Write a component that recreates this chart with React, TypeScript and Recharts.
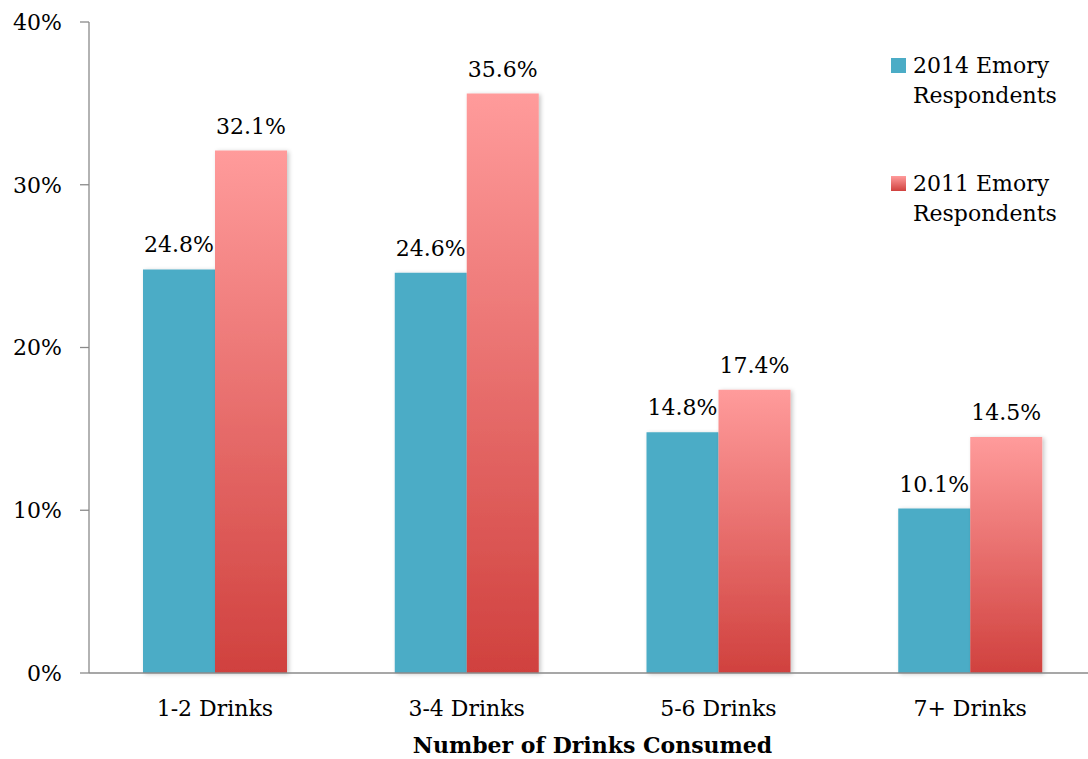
import React from 'react';
import { BarChart, Bar, XAxis, YAxis, LabelList, Legend, Label } from 'recharts';

// Share of respondents by number of drinks consumed
const categories = ['1-2 Drinks', '3-4 Drinks', '5-6 Drinks', '7+ Drinks'];
const respondents2014 = [24.8, 24.6, 14.8, 10.1];
const respondents2011 = [32.1, 35.6, 17.4, 14.5];
const yTicks = [0, 10, 20, 30, 40];
const seriesLabels = [
  ['2014 Emory', 'Respondents'],
  ['2011 Emory', 'Respondents'],
];

const data = categories.map((category, i) => ({
  category,
  r2014: respondents2014[i],
  r2011: respondents2011[i],
}));

// category boundaries 0..n, used for the tick marks between groups
const bandEdges = [...categories.map((_, i) => i), categories.length];

const FONT = '"DejaVu Serif", serif';
const TEAL = '#4BACC6';
const PINK_TOP = '#FF9B9B';
const RED_BOTTOM = '#D0413E';
const AXIS = '#8A8A8A';

const pct = (v: number) => `${v.toFixed(1)}%`;

const LegendBox = () => (
  <div style={{ fontFamily: FONT, fontSize: 22, lineHeight: '30px', color: '#000' }}>
    {seriesLabels.map((lines, i) => (
      <div key={i} style={{ position: 'relative', paddingLeft: 22, marginTop: i === 0 ? 0 : 58 }}>
        <div
          style={{
            position: 'absolute',
            left: 0,
            top: 7,
            width: 15,
            height: 15,
            background: i === 0 ? TEAL : `linear-gradient(${PINK_TOP}, ${RED_BOTTOM})`,
          }}
        />
        {lines.map((l, j) => (
          <div key={j} style={{ whiteSpace: 'nowrap' }}>{l}</div>
        ))}
      </div>
    ))}
  </div>
);

export default function App() {
  return (
    <div
      style={{
        position: 'absolute',
        left: 0,
        top: 0,
        width: 1088,
        height: 759,
        overflow: 'hidden',
        background: '#fff',
      }}
    >
      <BarChart
        width={1096}
        height={759}
        data={data}
        margin={{ top: 22, right: 0, bottom: 0, left: 0 }}
        barCategoryGap={54}
        barGap={0}
      >
        <defs>
          <linearGradient id="red2011" x1="0" y1="0" x2="0" y2="1">
            <stop offset="0%" stopColor={PINK_TOP} />
            <stop offset="100%" stopColor={RED_BOTTOM} />
          </linearGradient>
          <filter id="barShadow" x="-10%" y="-10%" width="130%" height="130%">
            <feDropShadow dx="2" dy="1" stdDeviation="2" floodColor="#000" floodOpacity="0.22" />
          </filter>
        </defs>
        <XAxis
          xAxisId="aEdges"
          type="number"
          domain={[0, categories.length]}
          ticks={bandEdges}
          tick={false}
          height={1}
          tickSize={9}
          axisLine={{ stroke: AXIS, strokeWidth: 1.3 }}
          tickLine={{ stroke: AXIS, strokeWidth: 1.3 }}
        />
        <XAxis
          xAxisId="cat"
          dataKey="category"
          height={85}
          axisLine={false}
          tickLine={false}
          tickMargin={20}
          tick={{ fill: '#000', fontSize: 22, fontFamily: FONT }}
        >
          <Label
            value="Number of Drinks Consumed"
            position="insideBottom"
            offset={6}
            style={{ fill: '#000', fontSize: 22, fontWeight: 'bold', fontFamily: FONT }}
          />
        </XAxis>
        <YAxis
          width={89}
          domain={[0, 40]}
          ticks={yTicks}
          tickFormatter={(v: number) => `${v}%`}
          tickSize={9}
          tickMargin={18}
          axisLine={{ stroke: AXIS, strokeWidth: 1.3 }}
          tickLine={{ stroke: AXIS, strokeWidth: 1.3 }}
          tick={{ fill: '#000', fontSize: 22, fontFamily: FONT }}
        />
        <Legend
          layout="horizontal"
          verticalAlign="middle"
          align="center"
          content={() => <LegendBox />}
          wrapperStyle={{ position: 'absolute', left: 891, top: 51, width: 200, height: 'auto' }}
        />
        <Bar
          xAxisId="cat"
          dataKey="r2014"
          name="2014 Emory Respondents"
          fill={TEAL}
          filter="url(#barShadow)"
          isAnimationActive={false}
        >
          <LabelList
            dataKey="r2014"
            position="top"
            offset={17}
            formatter={(v: number) => pct(v)}
            style={{ fill: '#000', fontSize: 22, fontFamily: FONT }}
          />
        </Bar>
        <Bar
          xAxisId="cat"
          dataKey="r2011"
          name="2011 Emory Respondents"
          fill="url(#red2011)"
          filter="url(#barShadow)"
          isAnimationActive={false}
        >
          <LabelList
            dataKey="r2011"
            position="top"
            offset={17}
            formatter={(v: number) => pct(v)}
            style={{ fill: '#000', fontSize: 22, fontFamily: FONT }}
          />
        </Bar>
      </BarChart>
    </div>
  );
}
